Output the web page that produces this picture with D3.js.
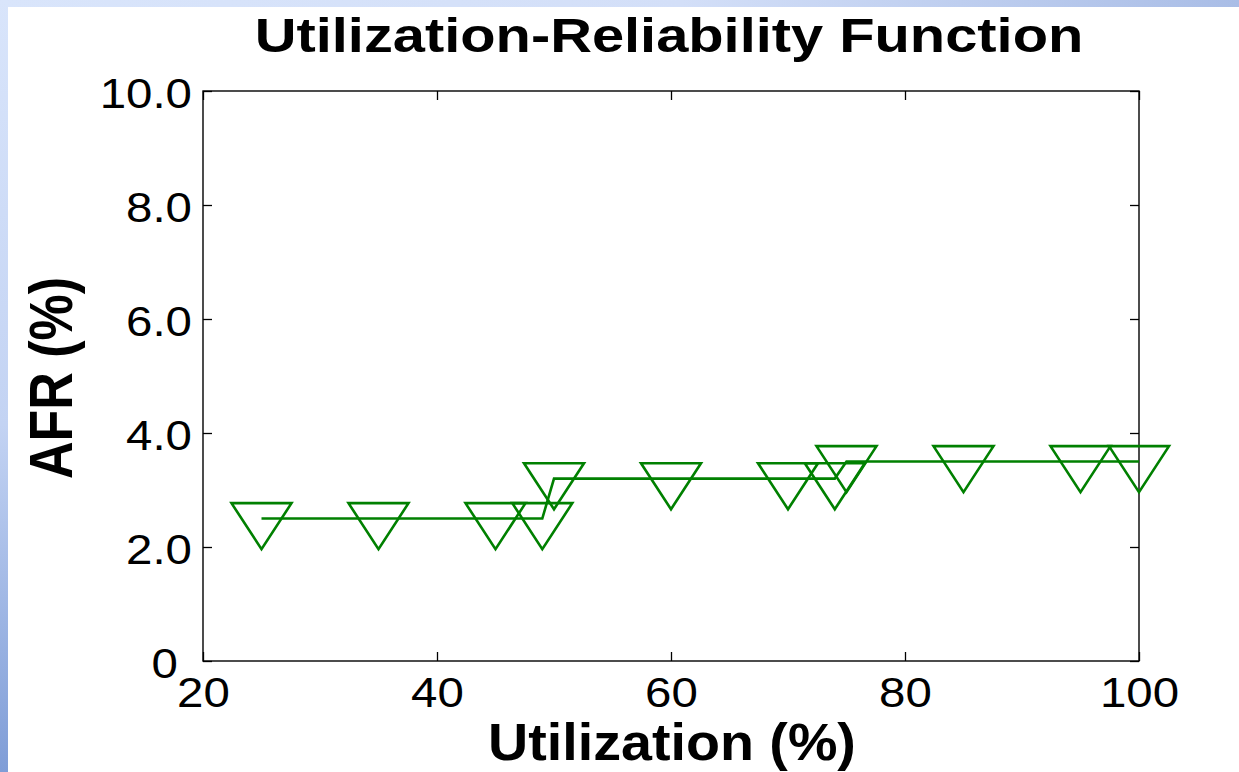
<!DOCTYPE html>
<html>
<head>
<meta charset="utf-8">
<script src="https://cdn.jsdelivr.net/npm/d3@7"></script>
<style>
  html, body { margin: 0; padding: 0; background: #d7e3f9; }
  svg { display: block; }
  text { font-family: "Liberation Sans", Arial, Helvetica, sans-serif; fill: #000; }
</style>
</head>
<body>
<svg id="chart" width="1239" height="772"></svg>
<script>
// Utilization level (%) and the measured annualized failure rate (%)
const utilization = [25, 35, 45, 49, 50, 60, 70, 74, 75, 85, 95, 100];
const afr = [2.5, 2.5, 2.5, 2.5, 3.2, 3.2, 3.2, 3.2, 3.5, 3.5, 3.5, 3.5];

const xTicks = [20, 40, 60, 80, 100];
const xTickLabels = ["20", "40", "60", "80", "100"];
const yTicks = [0, 2, 4, 6, 8, 10];
const yTickLabels = ["0", "2.0", "4.0", "6.0", "8.0", "10.0"];

const titleText = "Utilization-Reliability Function";
const xLabelText = "Utilization (%)";
const yLabelText = "AFR (%)";

const W = 1239, H = 772;
const plot = { left: 203, top: 91, right: 1139, bottom: 661 };
const green = "#008000";

const svg = d3.select("#chart");
const defs = svg.append("defs");

// Slide backdrop: soft blue bands along the top and left edges
const gTop = defs.append("linearGradient").attr("id", "topBand").attr("x1", 0).attr("x2", 1).attr("y1", 0).attr("y2", 0);
gTop.append("stop").attr("offset", 0).attr("stop-color", "#d9e5fb");
gTop.append("stop").attr("offset", 0.55).attr("stop-color", "#d3dff8");
gTop.append("stop").attr("offset", 1).attr("stop-color", "#a9bde6");
const gLeft = defs.append("linearGradient").attr("id", "leftBand").attr("x1", 0).attr("x2", 0).attr("y1", 0).attr("y2", 1);
gLeft.append("stop").attr("offset", 0).attr("stop-color", "#d9e5fb");
gLeft.append("stop").attr("offset", 0.55).attr("stop-color", "#c3d3f3");
gLeft.append("stop").attr("offset", 1).attr("stop-color", "#7f9dd7");

svg.append("rect").attr("x", 0).attr("y", 0).attr("width", W).attr("height", 8).attr("fill", "url(#topBand)");
svg.append("rect").attr("x", 0).attr("y", 0).attr("width", 8).attr("height", H).attr("fill", "url(#leftBand)");
svg.append("rect").attr("x", 8).attr("y", 7).attr("width", W - 8).attr("height", H - 7).attr("fill", "#fff");

const x = d3.scaleLinear().domain([20, 100]).range([plot.left, plot.right]);
const y = d3.scaleLinear().domain([0, 10]).range([plot.bottom, plot.top]);

const TICK = 9;
const tickStretch = 1.13;

// Axes with inward ticks on all four sides
const axB = svg.append("g").attr("transform", `translate(0,${plot.bottom})`)
  .call(d3.axisBottom(x).tickValues(xTicks).tickSize(-TICK).tickFormat((d, i) => xTickLabels[i]));
const axT = svg.append("g").attr("transform", `translate(0,${plot.top})`)
  .call(d3.axisTop(x).tickValues(xTicks).tickSize(-TICK).tickFormat(""));
const axL = svg.append("g").attr("transform", `translate(${plot.left},0)`)
  .call(d3.axisLeft(y).tickValues(yTicks).tickSize(-TICK).tickFormat((d, i) => yTickLabels[i]));
const axR = svg.append("g").attr("transform", `translate(${plot.right},0)`)
  .call(d3.axisRight(y).tickValues(yTicks).tickSize(-TICK).tickFormat(""));

[axB, axT, axL, axR].forEach(a => {
  a.select(".domain").remove();
  a.selectAll(".tick line").attr("stroke", "#000").attr("stroke-width", 1.3);
});

axB.selectAll(".tick text")
  .attr("font-size", 42).attr("fill", "#000")
  .attr("font-family", "Liberation Sans, Arial, sans-serif")
  .attr("y", 0).attr("dy", null)
  .attr("transform", `translate(0,46) scale(${tickStretch},1)`);

axL.selectAll(".tick text")
  .attr("font-size", 42).attr("fill", "#000")
  .attr("font-family", "Liberation Sans, Arial, sans-serif")
  .attr("x", 0).attr("dy", null).attr("text-anchor", "end")
  .attr("transform", d => `translate(${d === 0 ? -25 : -11},16) scale(${tickStretch},1)`);

// Plot frame
svg.append("rect")
  .attr("x", plot.left).attr("y", plot.top)
  .attr("width", plot.right - plot.left).attr("height", plot.bottom - plot.top)
  .attr("fill", "none").attr("stroke", "#000").attr("stroke-width", 1.4);

const data = utilization.map((u, i) => ({ u, v: afr[i] }));

// Connecting line through the measurements
svg.append("path")
  .datum(data)
  .attr("fill", "none")
  .attr("stroke", green)
  .attr("stroke-width", 2.6)
  .attr("d", d3.line().x(d => x(d.u)).y(d => y(d.v)));

// Hollow downward triangles centred on their centroid
const triW = 60, triH = 46;
const tri = `M${-triW / 2},${-triH / 3}L${triW / 2},${-triH / 3}L0,${2 * triH / 3}Z`;
svg.append("g").selectAll("path.marker")
  .data(data)
  .join("path")
  .attr("class", "marker")
  .attr("transform", d => `translate(${x(d.u)},${y(d.v)})`)
  .attr("d", tri)
  .attr("fill", "none")
  .attr("stroke", green)
  .attr("stroke-width", 2.6)
  .attr("stroke-linejoin", "miter");

// Title and axis labels
svg.append("text")
  .attr("transform", `translate(${(plot.left + plot.right) / 2 - 2},52) scale(1.18,1)`)
  .attr("text-anchor", "middle")
  .attr("font-size", 49).attr("font-weight", "bold")
  .text(titleText);

svg.append("text")
  .attr("transform", `translate(672,760) scale(1.07,1)`)
  .attr("text-anchor", "middle")
  .attr("font-size", 52).attr("font-weight", "bold")
  .text(xLabelText);

svg.append("text")
  .attr("transform", `translate(72,378) scale(1.16,1) rotate(-90)`)
  .attr("text-anchor", "middle")
  .attr("font-size", 52).attr("font-weight", "bold")
  .text(yLabelText);
</script>
</body>
</html>
